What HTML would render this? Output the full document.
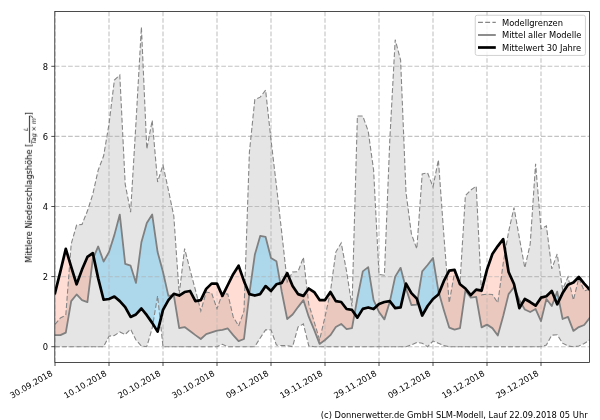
<!DOCTYPE html><html><head><meta charset="utf-8"><title>Niederschlag</title><style>html,body{margin:0;padding:0;background:#fff}svg{display:block}text{font-family:"DejaVu Sans","Liberation Sans",sans-serif;fill:#000}</style></head><body>
<svg width="600" height="420" viewBox="0 0 600 420">
<rect width="600" height="420" fill="#fff"/>
<defs><filter id="nf" x="-5%" y="-5%" width="110%" height="110%" color-interpolation-filters="sRGB"><feOffset dx="0" dy="0"/></filter><clipPath id="ax"><rect x="54.8" y="11.5" width="534.7" height="351"/></clipPath><clipPath id="band"><path d="M55.00,324.27 L60.40,317.96 L65.80,315.15 L71.20,244.00 L76.60,225.08 L82.00,224.38 L87.40,211.06 L92.80,194.23 L98.20,170.05 L103.60,156.03 L109.00,124.13 L114.40,79.97 L119.80,75.06 L125.20,184.07 L130.60,212.11 L136.00,122.38 L141.40,27.04 L146.80,149.02 L152.20,120.28 L157.60,181.97 L163.00,165.14 L168.40,190.03 L173.80,215.96 L179.20,294.12 L184.60,248.56 L190.00,269.59 L195.40,289.92 L200.80,310.95 L206.20,292.02 L211.60,293.07 L217.00,308.85 L222.40,293.42 L227.80,294.12 L233.20,316.91 L238.60,326.02 L244.00,310.95 L249.40,152.17 L254.80,99.60 L260.20,97.14 L265.60,90.13 L271.00,139.91 L276.40,185.47 L281.80,233.14 L287.20,281.86 L292.60,272.04 L298.00,271.69 L303.40,257.32 L308.80,304.29 L314.20,321.81 L319.60,340.04 L325.00,316.91 L330.40,292.02 L335.80,252.06 L341.20,242.95 L346.60,271.34 L352.00,306.39 L357.40,116.07 L362.80,116.07 L368.20,131.14 L373.60,170.05 L379.00,274.50 L384.40,275.20 L389.80,139.91 L395.20,39.66 L400.60,59.99 L406.00,192.48 L411.40,233.84 L416.80,248.91 L422.20,173.90 L427.60,172.85 L433.00,186.87 L438.40,159.88 L443.80,234.54 L449.20,302.89 L454.60,272.04 L460.00,282.56 L465.40,195.63 L470.80,190.03 L476.20,186.17 L481.60,294.83 L487.00,294.12 L492.40,294.48 L497.80,302.89 L503.20,263.28 L508.60,231.74 L514.00,207.55 L519.40,238.04 L524.80,267.84 L530.20,244.00 L535.60,163.74 L541.00,228.93 L546.40,225.78 L551.80,268.89 L557.20,253.99 L562.60,289.57 L568.00,276.95 L573.40,300.08 L578.80,278.00 L584.20,290.97 L589.60,289.22 L589.60,340.04 L584.20,343.55 L578.80,346.00 L573.40,346.70 L568.00,346.00 L562.60,343.19 L557.20,334.78 L551.80,335.13 L546.40,344.95 L541.00,346.70 L535.60,346.70 L530.20,346.70 L524.80,346.70 L519.40,346.70 L514.00,346.70 L508.60,346.70 L503.20,346.70 L497.80,346.70 L492.40,346.70 L487.00,346.70 L481.60,346.70 L476.20,346.70 L470.80,346.70 L465.40,346.70 L460.00,346.70 L454.60,346.70 L449.20,346.70 L443.80,345.65 L438.40,343.19 L433.00,341.09 L427.60,346.70 L422.20,343.19 L416.80,342.49 L411.40,344.95 L406.00,346.70 L400.60,346.70 L395.20,346.70 L389.80,346.70 L384.40,346.70 L379.00,346.70 L373.60,346.70 L368.20,346.70 L362.80,346.70 L357.40,346.70 L352.00,346.70 L346.60,346.70 L341.20,346.70 L335.80,346.70 L330.40,346.70 L325.00,346.70 L319.60,346.70 L314.20,346.70 L308.80,346.00 L303.40,323.92 L298.00,327.07 L292.60,346.70 L287.20,345.65 L281.80,345.65 L276.40,344.95 L271.00,329.88 L265.60,329.88 L260.20,337.94 L254.80,346.70 L249.40,346.70 L244.00,346.70 L238.60,346.70 L233.20,346.70 L227.80,346.70 L222.40,344.25 L217.00,346.70 L211.60,346.70 L206.20,346.70 L200.80,346.70 L195.40,346.70 L190.00,346.70 L184.60,346.70 L179.20,346.70 L173.80,346.70 L168.40,346.70 L163.00,346.70 L157.60,295.88 L152.20,328.12 L146.80,346.70 L141.40,346.00 L136.00,340.04 L130.60,329.18 L125.20,334.43 L119.80,331.98 L114.40,335.48 L109.00,336.19 L103.60,346.70 L98.20,346.70 L92.80,346.70 L87.40,346.70 L82.00,346.70 L76.60,346.70 L71.20,346.70 L65.80,346.70 L60.40,346.70 L55.00,346.70Z"/></clipPath></defs>
<g clip-path="url(#ax)">
<path d="M55.00,324.27 L60.40,317.96 L65.80,315.15 L71.20,244.00 L76.60,225.08 L82.00,224.38 L87.40,211.06 L92.80,194.23 L98.20,170.05 L103.60,156.03 L109.00,124.13 L114.40,79.97 L119.80,75.06 L125.20,184.07 L130.60,212.11 L136.00,122.38 L141.40,27.04 L146.80,149.02 L152.20,120.28 L157.60,181.97 L163.00,165.14 L168.40,190.03 L173.80,215.96 L179.20,294.12 L184.60,248.56 L190.00,269.59 L195.40,289.92 L200.80,310.95 L206.20,292.02 L211.60,293.07 L217.00,308.85 L222.40,293.42 L227.80,294.12 L233.20,316.91 L238.60,326.02 L244.00,310.95 L249.40,152.17 L254.80,99.60 L260.20,97.14 L265.60,90.13 L271.00,139.91 L276.40,185.47 L281.80,233.14 L287.20,281.86 L292.60,272.04 L298.00,271.69 L303.40,257.32 L308.80,304.29 L314.20,321.81 L319.60,340.04 L325.00,316.91 L330.40,292.02 L335.80,252.06 L341.20,242.95 L346.60,271.34 L352.00,306.39 L357.40,116.07 L362.80,116.07 L368.20,131.14 L373.60,170.05 L379.00,274.50 L384.40,275.20 L389.80,139.91 L395.20,39.66 L400.60,59.99 L406.00,192.48 L411.40,233.84 L416.80,248.91 L422.20,173.90 L427.60,172.85 L433.00,186.87 L438.40,159.88 L443.80,234.54 L449.20,302.89 L454.60,272.04 L460.00,282.56 L465.40,195.63 L470.80,190.03 L476.20,186.17 L481.60,294.83 L487.00,294.12 L492.40,294.48 L497.80,302.89 L503.20,263.28 L508.60,231.74 L514.00,207.55 L519.40,238.04 L524.80,267.84 L530.20,244.00 L535.60,163.74 L541.00,228.93 L546.40,225.78 L551.80,268.89 L557.20,253.99 L562.60,289.57 L568.00,276.95 L573.40,300.08 L578.80,278.00 L584.20,290.97 L589.60,289.22 L589.60,340.04 L584.20,343.55 L578.80,346.00 L573.40,346.70 L568.00,346.00 L562.60,343.19 L557.20,334.78 L551.80,335.13 L546.40,344.95 L541.00,346.70 L535.60,346.70 L530.20,346.70 L524.80,346.70 L519.40,346.70 L514.00,346.70 L508.60,346.70 L503.20,346.70 L497.80,346.70 L492.40,346.70 L487.00,346.70 L481.60,346.70 L476.20,346.70 L470.80,346.70 L465.40,346.70 L460.00,346.70 L454.60,346.70 L449.20,346.70 L443.80,345.65 L438.40,343.19 L433.00,341.09 L427.60,346.70 L422.20,343.19 L416.80,342.49 L411.40,344.95 L406.00,346.70 L400.60,346.70 L395.20,346.70 L389.80,346.70 L384.40,346.70 L379.00,346.70 L373.60,346.70 L368.20,346.70 L362.80,346.70 L357.40,346.70 L352.00,346.70 L346.60,346.70 L341.20,346.70 L335.80,346.70 L330.40,346.70 L325.00,346.70 L319.60,346.70 L314.20,346.70 L308.80,346.00 L303.40,323.92 L298.00,327.07 L292.60,346.70 L287.20,345.65 L281.80,345.65 L276.40,344.95 L271.00,329.88 L265.60,329.88 L260.20,337.94 L254.80,346.70 L249.40,346.70 L244.00,346.70 L238.60,346.70 L233.20,346.70 L227.80,346.70 L222.40,344.25 L217.00,346.70 L211.60,346.70 L206.20,346.70 L200.80,346.70 L195.40,346.70 L190.00,346.70 L184.60,346.70 L179.20,346.70 L173.80,346.70 L168.40,346.70 L163.00,346.70 L157.60,295.88 L152.20,328.12 L146.80,346.70 L141.40,346.00 L136.00,340.04 L130.60,329.18 L125.20,334.43 L119.80,331.98 L114.40,335.48 L109.00,336.19 L103.60,346.70 L98.20,346.70 L92.80,346.70 L87.40,346.70 L82.00,346.70 L76.60,346.70 L71.20,346.70 L65.80,346.70 L60.40,346.70 L55.00,346.70Z" fill="#e5e5e5"/>
<path d="M55.00,335.13 L60.40,335.13 L65.80,332.68 L71.20,301.13 L76.60,294.48 L82.00,300.08 L87.40,302.19 L92.80,259.07 L93.65,257.09 L93.65,257.09 L92.80,253.12 L87.40,256.97 L82.00,269.59 L76.60,284.31 L71.20,266.79 L65.80,248.91 L60.40,271.34 L55.00,293.07Z M172.45,295.35 L173.80,295.18 L179.20,328.12 L184.60,327.07 L190.00,330.93 L195.40,335.13 L200.80,338.99 L206.20,334.08 L211.60,332.33 L217.00,330.58 L222.40,329.88 L227.80,328.47 L233.20,335.13 L238.60,341.09 L244.00,338.99 L249.34,293.97 L249.34,293.97 L244.00,281.16 L238.60,265.73 L233.20,274.15 L227.80,285.01 L222.40,295.88 L217.00,283.61 L211.60,283.61 L206.20,288.87 L200.80,300.08 L195.40,301.13 L190.00,290.97 L184.60,292.02 L179.20,295.53 L173.80,293.77 L172.45,295.35Z M280.27,283.31 L281.80,292.02 L287.20,319.01 L292.60,314.45 L298.00,307.09 L303.40,300.08 L308.80,316.91 L314.20,329.88 L319.60,343.90 L325.00,340.04 L330.40,335.13 L335.80,327.07 L341.20,323.92 L346.60,329.18 L352.00,328.12 L354.60,313.61 L354.60,313.61 L352.00,309.90 L346.60,309.02 L341.20,302.01 L335.80,301.13 L330.40,292.02 L325.00,300.08 L319.60,300.08 L314.20,292.02 L308.80,288.52 L303.40,295.88 L298.00,294.12 L292.60,286.06 L287.20,273.09 L281.80,282.91 L280.27,283.31Z M376.44,306.35 L379.00,312.00 L384.40,319.36 L389.80,301.84 L389.92,301.29 L389.92,301.29 L389.80,301.13 L384.40,302.01 L379.00,303.94 L376.44,306.35Z M405.40,286.24 L406.00,288.52 L411.40,304.99 L416.80,304.64 L417.44,300.68 L417.44,300.68 L416.80,298.68 L411.40,293.07 L406.00,283.61 L405.40,286.24Z M438.99,293.03 L443.80,309.90 L449.20,327.60 L454.60,329.53 L460.00,328.12 L465.40,290.44 L470.80,297.63 L476.20,296.93 L481.60,327.42 L487.00,324.62 L492.40,328.12 L497.80,335.48 L503.20,316.03 L508.60,294.12 L514.00,287.12 L515.52,290.76 L515.52,290.76 L514.00,283.96 L508.60,272.04 L503.20,239.10 L497.80,246.11 L492.40,253.99 L487.00,269.59 L481.60,290.62 L476.20,289.57 L470.80,295.18 L465.40,288.52 L460.00,284.31 L454.60,269.94 L449.20,270.64 L443.80,281.16 L438.99,293.03Z M521.74,304.19 L524.80,309.55 L530.20,312.00 L535.60,309.02 L541.00,321.11 L546.40,299.03 L551.80,306.04 L554.74,298.22 L554.74,298.22 L551.80,290.97 L546.40,296.23 L541.00,297.63 L535.60,305.69 L530.20,302.01 L524.80,299.03 L521.74,304.19Z M558.97,300.62 L562.60,319.01 L568.00,316.91 L573.40,330.93 L578.80,327.07 L584.20,324.97 L589.60,317.96 L589.60,289.57 L584.20,283.61 L578.80,276.95 L573.40,282.56 L568.00,284.66 L562.60,293.07 L558.97,300.62Z" fill="#ffddd4"/>
<path d="M93.65,257.09 L98.20,246.46 L103.60,261.53 L109.00,252.06 L114.40,234.89 L119.80,214.56 L125.20,263.98 L130.60,265.73 L136.00,282.91 L141.40,242.25 L146.80,222.97 L152.20,214.56 L157.60,252.06 L163.00,272.04 L168.40,295.88 L172.45,295.35 L172.45,295.35 L168.40,300.08 L163.00,309.90 L157.60,331.63 L152.20,322.87 L146.80,315.15 L141.40,308.50 L136.00,314.45 L130.60,316.91 L125.20,307.09 L119.80,301.13 L114.40,296.58 L109.00,299.03 L103.60,299.73 L98.20,278.35 L93.65,257.09Z M249.34,293.97 L249.40,293.42 L254.80,254.87 L260.20,235.94 L265.60,236.99 L271.00,258.02 L276.40,261.18 L280.27,283.31 L280.27,283.31 L276.40,284.31 L271.00,290.97 L265.60,286.06 L260.20,294.12 L254.80,295.53 L249.40,294.12 L249.34,293.97Z M354.60,313.61 L357.40,297.98 L362.80,271.34 L368.20,267.14 L373.60,300.08 L376.44,306.35 L376.44,306.35 L373.60,309.02 L368.20,307.44 L362.80,308.85 L357.40,317.61 L354.60,313.61Z M389.92,301.29 L395.20,276.60 L400.60,267.84 L405.40,286.24 L405.40,286.24 L400.60,307.44 L395.20,308.14 L389.92,301.29Z M417.44,300.68 L422.20,271.34 L427.60,265.03 L433.00,258.02 L438.40,290.97 L438.99,293.03 L438.99,293.03 L438.40,294.48 L433.00,299.03 L427.60,306.04 L422.20,315.51 L417.44,300.68Z M515.52,290.76 L519.40,300.08 L521.74,304.19 L521.74,304.19 L519.40,308.14 L515.52,290.76Z M554.74,298.22 L557.20,291.67 L558.97,300.62 L558.97,300.62 L557.20,304.29 L554.74,298.22Z" fill="#bee8fc"/>
<g clip-path="url(#band)"><path d="M55.00,335.13 L60.40,335.13 L65.80,332.68 L71.20,301.13 L76.60,294.48 L82.00,300.08 L87.40,302.19 L92.80,259.07 L93.65,257.09 L93.65,257.09 L92.80,253.12 L87.40,256.97 L82.00,269.59 L76.60,284.31 L71.20,266.79 L65.80,248.91 L60.40,271.34 L55.00,293.07Z M172.45,295.35 L173.80,295.18 L179.20,328.12 L184.60,327.07 L190.00,330.93 L195.40,335.13 L200.80,338.99 L206.20,334.08 L211.60,332.33 L217.00,330.58 L222.40,329.88 L227.80,328.47 L233.20,335.13 L238.60,341.09 L244.00,338.99 L249.34,293.97 L249.34,293.97 L244.00,281.16 L238.60,265.73 L233.20,274.15 L227.80,285.01 L222.40,295.88 L217.00,283.61 L211.60,283.61 L206.20,288.87 L200.80,300.08 L195.40,301.13 L190.00,290.97 L184.60,292.02 L179.20,295.53 L173.80,293.77 L172.45,295.35Z M280.27,283.31 L281.80,292.02 L287.20,319.01 L292.60,314.45 L298.00,307.09 L303.40,300.08 L308.80,316.91 L314.20,329.88 L319.60,343.90 L325.00,340.04 L330.40,335.13 L335.80,327.07 L341.20,323.92 L346.60,329.18 L352.00,328.12 L354.60,313.61 L354.60,313.61 L352.00,309.90 L346.60,309.02 L341.20,302.01 L335.80,301.13 L330.40,292.02 L325.00,300.08 L319.60,300.08 L314.20,292.02 L308.80,288.52 L303.40,295.88 L298.00,294.12 L292.60,286.06 L287.20,273.09 L281.80,282.91 L280.27,283.31Z M376.44,306.35 L379.00,312.00 L384.40,319.36 L389.80,301.84 L389.92,301.29 L389.92,301.29 L389.80,301.13 L384.40,302.01 L379.00,303.94 L376.44,306.35Z M405.40,286.24 L406.00,288.52 L411.40,304.99 L416.80,304.64 L417.44,300.68 L417.44,300.68 L416.80,298.68 L411.40,293.07 L406.00,283.61 L405.40,286.24Z M438.99,293.03 L443.80,309.90 L449.20,327.60 L454.60,329.53 L460.00,328.12 L465.40,290.44 L470.80,297.63 L476.20,296.93 L481.60,327.42 L487.00,324.62 L492.40,328.12 L497.80,335.48 L503.20,316.03 L508.60,294.12 L514.00,287.12 L515.52,290.76 L515.52,290.76 L514.00,283.96 L508.60,272.04 L503.20,239.10 L497.80,246.11 L492.40,253.99 L487.00,269.59 L481.60,290.62 L476.20,289.57 L470.80,295.18 L465.40,288.52 L460.00,284.31 L454.60,269.94 L449.20,270.64 L443.80,281.16 L438.99,293.03Z M521.74,304.19 L524.80,309.55 L530.20,312.00 L535.60,309.02 L541.00,321.11 L546.40,299.03 L551.80,306.04 L554.74,298.22 L554.74,298.22 L551.80,290.97 L546.40,296.23 L541.00,297.63 L535.60,305.69 L530.20,302.01 L524.80,299.03 L521.74,304.19Z M558.97,300.62 L562.60,319.01 L568.00,316.91 L573.40,330.93 L578.80,327.07 L584.20,324.97 L589.60,317.96 L589.60,289.57 L584.20,283.61 L578.80,276.95 L573.40,282.56 L568.00,284.66 L562.60,293.07 L558.97,300.62Z" fill="#eac8be"/><path d="M93.65,257.09 L98.20,246.46 L103.60,261.53 L109.00,252.06 L114.40,234.89 L119.80,214.56 L125.20,263.98 L130.60,265.73 L136.00,282.91 L141.40,242.25 L146.80,222.97 L152.20,214.56 L157.60,252.06 L163.00,272.04 L168.40,295.88 L172.45,295.35 L172.45,295.35 L168.40,300.08 L163.00,309.90 L157.60,331.63 L152.20,322.87 L146.80,315.15 L141.40,308.50 L136.00,314.45 L130.60,316.91 L125.20,307.09 L119.80,301.13 L114.40,296.58 L109.00,299.03 L103.60,299.73 L98.20,278.35 L93.65,257.09Z M249.34,293.97 L249.40,293.42 L254.80,254.87 L260.20,235.94 L265.60,236.99 L271.00,258.02 L276.40,261.18 L280.27,283.31 L280.27,283.31 L276.40,284.31 L271.00,290.97 L265.60,286.06 L260.20,294.12 L254.80,295.53 L249.40,294.12 L249.34,293.97Z M354.60,313.61 L357.40,297.98 L362.80,271.34 L368.20,267.14 L373.60,300.08 L376.44,306.35 L376.44,306.35 L373.60,309.02 L368.20,307.44 L362.80,308.85 L357.40,317.61 L354.60,313.61Z M389.92,301.29 L395.20,276.60 L400.60,267.84 L405.40,286.24 L405.40,286.24 L400.60,307.44 L395.20,308.14 L389.92,301.29Z M417.44,300.68 L422.20,271.34 L427.60,265.03 L433.00,258.02 L438.40,290.97 L438.99,293.03 L438.99,293.03 L438.40,294.48 L433.00,299.03 L427.60,306.04 L422.20,315.51 L417.44,300.68Z M515.52,290.76 L519.40,300.08 L521.74,304.19 L521.74,304.19 L519.40,308.14 L515.52,290.76Z M554.74,298.22 L557.20,291.67 L558.97,300.62 L558.97,300.62 L557.20,304.29 L554.74,298.22Z" fill="#add7eb"/></g>
<path d="M55.00,362.50 V11.50 M109.00,362.50 V11.50 M163.00,362.50 V11.50 M217.00,362.50 V11.50 M271.00,362.50 V11.50 M325.00,362.50 V11.50 M379.00,362.50 V11.50 M433.00,362.50 V11.50 M487.00,362.50 V11.50 M541.00,362.50 V11.50 M54.80,346.70 H589.50 M54.80,276.60 H589.50 M54.80,206.50 H589.50 M54.80,136.40 H589.50 M54.80,66.30 H589.50" fill="none" stroke="#b0b0b0" stroke-opacity="0.76" stroke-width="1.1" stroke-dasharray="4.65 2.01"/>
<g opacity="0.35"><path d="M55.00,335.13 L60.40,335.13 L65.80,332.68 L71.20,301.13 L76.60,294.48 L82.00,300.08 L87.40,302.19 L92.80,259.07 L93.65,257.09 L93.65,257.09 L92.80,253.12 L87.40,256.97 L82.00,269.59 L76.60,284.31 L71.20,266.79 L65.80,248.91 L60.40,271.34 L55.00,293.07Z M172.45,295.35 L173.80,295.18 L179.20,328.12 L184.60,327.07 L190.00,330.93 L195.40,335.13 L200.80,338.99 L206.20,334.08 L211.60,332.33 L217.00,330.58 L222.40,329.88 L227.80,328.47 L233.20,335.13 L238.60,341.09 L244.00,338.99 L249.34,293.97 L249.34,293.97 L244.00,281.16 L238.60,265.73 L233.20,274.15 L227.80,285.01 L222.40,295.88 L217.00,283.61 L211.60,283.61 L206.20,288.87 L200.80,300.08 L195.40,301.13 L190.00,290.97 L184.60,292.02 L179.20,295.53 L173.80,293.77 L172.45,295.35Z M280.27,283.31 L281.80,292.02 L287.20,319.01 L292.60,314.45 L298.00,307.09 L303.40,300.08 L308.80,316.91 L314.20,329.88 L319.60,343.90 L325.00,340.04 L330.40,335.13 L335.80,327.07 L341.20,323.92 L346.60,329.18 L352.00,328.12 L354.60,313.61 L354.60,313.61 L352.00,309.90 L346.60,309.02 L341.20,302.01 L335.80,301.13 L330.40,292.02 L325.00,300.08 L319.60,300.08 L314.20,292.02 L308.80,288.52 L303.40,295.88 L298.00,294.12 L292.60,286.06 L287.20,273.09 L281.80,282.91 L280.27,283.31Z M376.44,306.35 L379.00,312.00 L384.40,319.36 L389.80,301.84 L389.92,301.29 L389.92,301.29 L389.80,301.13 L384.40,302.01 L379.00,303.94 L376.44,306.35Z M405.40,286.24 L406.00,288.52 L411.40,304.99 L416.80,304.64 L417.44,300.68 L417.44,300.68 L416.80,298.68 L411.40,293.07 L406.00,283.61 L405.40,286.24Z M438.99,293.03 L443.80,309.90 L449.20,327.60 L454.60,329.53 L460.00,328.12 L465.40,290.44 L470.80,297.63 L476.20,296.93 L481.60,327.42 L487.00,324.62 L492.40,328.12 L497.80,335.48 L503.20,316.03 L508.60,294.12 L514.00,287.12 L515.52,290.76 L515.52,290.76 L514.00,283.96 L508.60,272.04 L503.20,239.10 L497.80,246.11 L492.40,253.99 L487.00,269.59 L481.60,290.62 L476.20,289.57 L470.80,295.18 L465.40,288.52 L460.00,284.31 L454.60,269.94 L449.20,270.64 L443.80,281.16 L438.99,293.03Z M521.74,304.19 L524.80,309.55 L530.20,312.00 L535.60,309.02 L541.00,321.11 L546.40,299.03 L551.80,306.04 L554.74,298.22 L554.74,298.22 L551.80,290.97 L546.40,296.23 L541.00,297.63 L535.60,305.69 L530.20,302.01 L524.80,299.03 L521.74,304.19Z M558.97,300.62 L562.60,319.01 L568.00,316.91 L573.40,330.93 L578.80,327.07 L584.20,324.97 L589.60,317.96 L589.60,289.57 L584.20,283.61 L578.80,276.95 L573.40,282.56 L568.00,284.66 L562.60,293.07 L558.97,300.62Z" fill="#ffddd4"/><path d="M93.65,257.09 L98.20,246.46 L103.60,261.53 L109.00,252.06 L114.40,234.89 L119.80,214.56 L125.20,263.98 L130.60,265.73 L136.00,282.91 L141.40,242.25 L146.80,222.97 L152.20,214.56 L157.60,252.06 L163.00,272.04 L168.40,295.88 L172.45,295.35 L172.45,295.35 L168.40,300.08 L163.00,309.90 L157.60,331.63 L152.20,322.87 L146.80,315.15 L141.40,308.50 L136.00,314.45 L130.60,316.91 L125.20,307.09 L119.80,301.13 L114.40,296.58 L109.00,299.03 L103.60,299.73 L98.20,278.35 L93.65,257.09Z M249.34,293.97 L249.40,293.42 L254.80,254.87 L260.20,235.94 L265.60,236.99 L271.00,258.02 L276.40,261.18 L280.27,283.31 L280.27,283.31 L276.40,284.31 L271.00,290.97 L265.60,286.06 L260.20,294.12 L254.80,295.53 L249.40,294.12 L249.34,293.97Z M354.60,313.61 L357.40,297.98 L362.80,271.34 L368.20,267.14 L373.60,300.08 L376.44,306.35 L376.44,306.35 L373.60,309.02 L368.20,307.44 L362.80,308.85 L357.40,317.61 L354.60,313.61Z M389.92,301.29 L395.20,276.60 L400.60,267.84 L405.40,286.24 L405.40,286.24 L400.60,307.44 L395.20,308.14 L389.92,301.29Z M417.44,300.68 L422.20,271.34 L427.60,265.03 L433.00,258.02 L438.40,290.97 L438.99,293.03 L438.99,293.03 L438.40,294.48 L433.00,299.03 L427.60,306.04 L422.20,315.51 L417.44,300.68Z M515.52,290.76 L519.40,300.08 L521.74,304.19 L521.74,304.19 L519.40,308.14 L515.52,290.76Z M554.74,298.22 L557.20,291.67 L558.97,300.62 L558.97,300.62 L557.20,304.29 L554.74,298.22Z" fill="#bee8fc"/><g clip-path="url(#band)"><path d="M55.00,335.13 L60.40,335.13 L65.80,332.68 L71.20,301.13 L76.60,294.48 L82.00,300.08 L87.40,302.19 L92.80,259.07 L93.65,257.09 L93.65,257.09 L92.80,253.12 L87.40,256.97 L82.00,269.59 L76.60,284.31 L71.20,266.79 L65.80,248.91 L60.40,271.34 L55.00,293.07Z M172.45,295.35 L173.80,295.18 L179.20,328.12 L184.60,327.07 L190.00,330.93 L195.40,335.13 L200.80,338.99 L206.20,334.08 L211.60,332.33 L217.00,330.58 L222.40,329.88 L227.80,328.47 L233.20,335.13 L238.60,341.09 L244.00,338.99 L249.34,293.97 L249.34,293.97 L244.00,281.16 L238.60,265.73 L233.20,274.15 L227.80,285.01 L222.40,295.88 L217.00,283.61 L211.60,283.61 L206.20,288.87 L200.80,300.08 L195.40,301.13 L190.00,290.97 L184.60,292.02 L179.20,295.53 L173.80,293.77 L172.45,295.35Z M280.27,283.31 L281.80,292.02 L287.20,319.01 L292.60,314.45 L298.00,307.09 L303.40,300.08 L308.80,316.91 L314.20,329.88 L319.60,343.90 L325.00,340.04 L330.40,335.13 L335.80,327.07 L341.20,323.92 L346.60,329.18 L352.00,328.12 L354.60,313.61 L354.60,313.61 L352.00,309.90 L346.60,309.02 L341.20,302.01 L335.80,301.13 L330.40,292.02 L325.00,300.08 L319.60,300.08 L314.20,292.02 L308.80,288.52 L303.40,295.88 L298.00,294.12 L292.60,286.06 L287.20,273.09 L281.80,282.91 L280.27,283.31Z M376.44,306.35 L379.00,312.00 L384.40,319.36 L389.80,301.84 L389.92,301.29 L389.92,301.29 L389.80,301.13 L384.40,302.01 L379.00,303.94 L376.44,306.35Z M405.40,286.24 L406.00,288.52 L411.40,304.99 L416.80,304.64 L417.44,300.68 L417.44,300.68 L416.80,298.68 L411.40,293.07 L406.00,283.61 L405.40,286.24Z M438.99,293.03 L443.80,309.90 L449.20,327.60 L454.60,329.53 L460.00,328.12 L465.40,290.44 L470.80,297.63 L476.20,296.93 L481.60,327.42 L487.00,324.62 L492.40,328.12 L497.80,335.48 L503.20,316.03 L508.60,294.12 L514.00,287.12 L515.52,290.76 L515.52,290.76 L514.00,283.96 L508.60,272.04 L503.20,239.10 L497.80,246.11 L492.40,253.99 L487.00,269.59 L481.60,290.62 L476.20,289.57 L470.80,295.18 L465.40,288.52 L460.00,284.31 L454.60,269.94 L449.20,270.64 L443.80,281.16 L438.99,293.03Z M521.74,304.19 L524.80,309.55 L530.20,312.00 L535.60,309.02 L541.00,321.11 L546.40,299.03 L551.80,306.04 L554.74,298.22 L554.74,298.22 L551.80,290.97 L546.40,296.23 L541.00,297.63 L535.60,305.69 L530.20,302.01 L524.80,299.03 L521.74,304.19Z M558.97,300.62 L562.60,319.01 L568.00,316.91 L573.40,330.93 L578.80,327.07 L584.20,324.97 L589.60,317.96 L589.60,289.57 L584.20,283.61 L578.80,276.95 L573.40,282.56 L568.00,284.66 L562.60,293.07 L558.97,300.62Z" fill="#eac8be"/><path d="M93.65,257.09 L98.20,246.46 L103.60,261.53 L109.00,252.06 L114.40,234.89 L119.80,214.56 L125.20,263.98 L130.60,265.73 L136.00,282.91 L141.40,242.25 L146.80,222.97 L152.20,214.56 L157.60,252.06 L163.00,272.04 L168.40,295.88 L172.45,295.35 L172.45,295.35 L168.40,300.08 L163.00,309.90 L157.60,331.63 L152.20,322.87 L146.80,315.15 L141.40,308.50 L136.00,314.45 L130.60,316.91 L125.20,307.09 L119.80,301.13 L114.40,296.58 L109.00,299.03 L103.60,299.73 L98.20,278.35 L93.65,257.09Z M249.34,293.97 L249.40,293.42 L254.80,254.87 L260.20,235.94 L265.60,236.99 L271.00,258.02 L276.40,261.18 L280.27,283.31 L280.27,283.31 L276.40,284.31 L271.00,290.97 L265.60,286.06 L260.20,294.12 L254.80,295.53 L249.40,294.12 L249.34,293.97Z M354.60,313.61 L357.40,297.98 L362.80,271.34 L368.20,267.14 L373.60,300.08 L376.44,306.35 L376.44,306.35 L373.60,309.02 L368.20,307.44 L362.80,308.85 L357.40,317.61 L354.60,313.61Z M389.92,301.29 L395.20,276.60 L400.60,267.84 L405.40,286.24 L405.40,286.24 L400.60,307.44 L395.20,308.14 L389.92,301.29Z M417.44,300.68 L422.20,271.34 L427.60,265.03 L433.00,258.02 L438.40,290.97 L438.99,293.03 L438.99,293.03 L438.40,294.48 L433.00,299.03 L427.60,306.04 L422.20,315.51 L417.44,300.68Z M515.52,290.76 L519.40,300.08 L521.74,304.19 L521.74,304.19 L519.40,308.14 L515.52,290.76Z M554.74,298.22 L557.20,291.67 L558.97,300.62 L558.97,300.62 L557.20,304.29 L554.74,298.22Z" fill="#add7eb"/></g></g>
<path d="M55.00,346.70 L60.40,346.70 L65.80,346.70 L71.20,346.70 L76.60,346.70 L82.00,346.70 L87.40,346.70 L92.80,346.70 L98.20,346.70 L103.60,346.70 L109.00,336.19 L114.40,335.48 L119.80,331.98 L125.20,334.43 L130.60,329.18 L136.00,340.04 L141.40,346.00 L146.80,346.70 L152.20,328.12 L157.60,295.88 L163.00,346.70 L168.40,346.70 L173.80,346.70 L179.20,346.70 L184.60,346.70 L190.00,346.70 L195.40,346.70 L200.80,346.70 L206.20,346.70 L211.60,346.70 L217.00,346.70 L222.40,344.25 L227.80,346.70 L233.20,346.70 L238.60,346.70 L244.00,346.70 L249.40,346.70 L254.80,346.70 L260.20,337.94 L265.60,329.88 L271.00,329.88 L276.40,344.95 L281.80,345.65 L287.20,345.65 L292.60,346.70 L298.00,327.07 L303.40,323.92 L308.80,346.00 L314.20,346.70 L319.60,346.70 L325.00,346.70 L330.40,346.70 L335.80,346.70 L341.20,346.70 L346.60,346.70 L352.00,346.70 L357.40,346.70 L362.80,346.70 L368.20,346.70 L373.60,346.70 L379.00,346.70 L384.40,346.70 L389.80,346.70 L395.20,346.70 L400.60,346.70 L406.00,346.70 L411.40,344.95 L416.80,342.49 L422.20,343.19 L427.60,346.70 L433.00,341.09 L438.40,343.19 L443.80,345.65 L449.20,346.70 L454.60,346.70 L460.00,346.70 L465.40,346.70 L470.80,346.70 L476.20,346.70 L481.60,346.70 L487.00,346.70 L492.40,346.70 L497.80,346.70 L503.20,346.70 L508.60,346.70 L514.00,346.70 L519.40,346.70 L524.80,346.70 L530.20,346.70 L535.60,346.70 L541.00,346.70 L546.40,344.95 L551.80,335.13 L557.20,334.78 L562.60,343.19 L568.00,346.00 L573.40,346.70 L578.80,346.00 L584.20,343.55 L589.60,340.04" fill="none" stroke="#868686" stroke-width="1.1" stroke-dasharray="4.9 2.3" stroke-linejoin="miter"/>
<path d="M55.00,324.27 L60.40,317.96 L65.80,315.15 L71.20,244.00 L76.60,225.08 L82.00,224.38 L87.40,211.06 L92.80,194.23 L98.20,170.05 L103.60,156.03 L109.00,124.13 L114.40,79.97 L119.80,75.06 L125.20,184.07 L130.60,212.11 L136.00,122.38 L141.40,27.04 L146.80,149.02 L152.20,120.28 L157.60,181.97 L163.00,165.14 L168.40,190.03 L173.80,215.96 L179.20,294.12 L184.60,248.56 L190.00,269.59 L195.40,289.92 L200.80,310.95 L206.20,292.02 L211.60,293.07 L217.00,308.85 L222.40,293.42 L227.80,294.12 L233.20,316.91 L238.60,326.02 L244.00,310.95 L249.40,152.17 L254.80,99.60 L260.20,97.14 L265.60,90.13 L271.00,139.91 L276.40,185.47 L281.80,233.14 L287.20,281.86 L292.60,272.04 L298.00,271.69 L303.40,257.32 L308.80,304.29 L314.20,321.81 L319.60,340.04 L325.00,316.91 L330.40,292.02 L335.80,252.06 L341.20,242.95 L346.60,271.34 L352.00,306.39 L357.40,116.07 L362.80,116.07 L368.20,131.14 L373.60,170.05 L379.00,274.50 L384.40,275.20 L389.80,139.91 L395.20,39.66 L400.60,59.99 L406.00,192.48 L411.40,233.84 L416.80,248.91 L422.20,173.90 L427.60,172.85 L433.00,186.87 L438.40,159.88 L443.80,234.54 L449.20,302.89 L454.60,272.04 L460.00,282.56 L465.40,195.63 L470.80,190.03 L476.20,186.17 L481.60,294.83 L487.00,294.12 L492.40,294.48 L497.80,302.89 L503.20,263.28 L508.60,231.74 L514.00,207.55 L519.40,238.04 L524.80,267.84 L530.20,244.00 L535.60,163.74 L541.00,228.93 L546.40,225.78 L551.80,268.89 L557.20,253.99 L562.60,289.57 L568.00,276.95 L573.40,300.08 L578.80,278.00 L584.20,290.97 L589.60,289.22" fill="none" stroke="#868686" stroke-width="1.1" stroke-dasharray="4.9 2.3" stroke-linejoin="miter"/>
<path d="M55.00,335.13 L60.40,335.13 L65.80,332.68 L71.20,301.13 L76.60,294.48 L82.00,300.08 L87.40,302.19 L92.80,259.07 L98.20,246.46 L103.60,261.53 L109.00,252.06 L114.40,234.89 L119.80,214.56 L125.20,263.98 L130.60,265.73 L136.00,282.91 L141.40,242.25 L146.80,222.97 L152.20,214.56 L157.60,252.06 L163.00,272.04 L168.40,295.88 L173.80,295.18 L179.20,328.12 L184.60,327.07 L190.00,330.93 L195.40,335.13 L200.80,338.99 L206.20,334.08 L211.60,332.33 L217.00,330.58 L222.40,329.88 L227.80,328.47 L233.20,335.13 L238.60,341.09 L244.00,338.99 L249.40,293.42 L254.80,254.87 L260.20,235.94 L265.60,236.99 L271.00,258.02 L276.40,261.18 L281.80,292.02 L287.20,319.01 L292.60,314.45 L298.00,307.09 L303.40,300.08 L308.80,316.91 L314.20,329.88 L319.60,343.90 L325.00,340.04 L330.40,335.13 L335.80,327.07 L341.20,323.92 L346.60,329.18 L352.00,328.12 L357.40,297.98 L362.80,271.34 L368.20,267.14 L373.60,300.08 L379.00,312.00 L384.40,319.36 L389.80,301.84 L395.20,276.60 L400.60,267.84 L406.00,288.52 L411.40,304.99 L416.80,304.64 L422.20,271.34 L427.60,265.03 L433.00,258.02 L438.40,290.97 L443.80,309.90 L449.20,327.60 L454.60,329.53 L460.00,328.12 L465.40,290.44 L470.80,297.63 L476.20,296.93 L481.60,327.42 L487.00,324.62 L492.40,328.12 L497.80,335.48 L503.20,316.03 L508.60,294.12 L514.00,287.12 L519.40,300.08 L524.80,309.55 L530.20,312.00 L535.60,309.02 L541.00,321.11 L546.40,299.03 L551.80,306.04 L557.20,291.67 L562.60,319.01 L568.00,316.91 L573.40,330.93 L578.80,327.07 L584.20,324.97 L589.60,317.96" fill="none" stroke="#808080" stroke-width="1.8" stroke-linejoin="round" stroke-linecap="square"/>
<path d="M55.00,293.07 L60.40,271.34 L65.80,248.91 L71.20,266.79 L76.60,284.31 L82.00,269.59 L87.40,256.97 L92.80,253.12 L98.20,278.35 L103.60,299.73 L109.00,299.03 L114.40,296.58 L119.80,301.13 L125.20,307.09 L130.60,316.91 L136.00,314.45 L141.40,308.50 L146.80,315.15 L152.20,322.87 L157.60,331.63 L163.00,309.90 L168.40,300.08 L173.80,293.77 L179.20,295.53 L184.60,292.02 L190.00,290.97 L195.40,301.13 L200.80,300.08 L206.20,288.87 L211.60,283.61 L217.00,283.61 L222.40,295.88 L227.80,285.01 L233.20,274.15 L238.60,265.73 L244.00,281.16 L249.40,294.12 L254.80,295.53 L260.20,294.12 L265.60,286.06 L271.00,290.97 L276.40,284.31 L281.80,282.91 L287.20,273.09 L292.60,286.06 L298.00,294.12 L303.40,295.88 L308.80,288.52 L314.20,292.02 L319.60,300.08 L325.00,300.08 L330.40,292.02 L335.80,301.13 L341.20,302.01 L346.60,309.02 L352.00,309.90 L357.40,317.61 L362.80,308.85 L368.20,307.44 L373.60,309.02 L379.00,303.94 L384.40,302.01 L389.80,301.13 L395.20,308.14 L400.60,307.44 L406.00,283.61 L411.40,293.07 L416.80,298.68 L422.20,315.51 L427.60,306.04 L433.00,299.03 L438.40,294.48 L443.80,281.16 L449.20,270.64 L454.60,269.94 L460.00,284.31 L465.40,288.52 L470.80,295.18 L476.20,289.57 L481.60,290.62 L487.00,269.59 L492.40,253.99 L497.80,246.11 L503.20,239.10 L508.60,272.04 L514.00,283.96 L519.40,308.14 L524.80,299.03 L530.20,302.01 L535.60,305.69 L541.00,297.63 L546.40,296.23 L551.80,290.97 L557.20,304.29 L562.60,293.07 L568.00,284.66 L573.40,282.56 L578.80,276.95 L584.20,283.61 L589.60,289.57" fill="none" stroke="#000" stroke-width="2.7" stroke-linejoin="round" stroke-linecap="square"/>
</g>
<rect x="54.8" y="11.5" width="534.7" height="351" fill="none" stroke="#111" stroke-width="0.75"/>
<path d="M55.00,362.50 v3.5 M109.00,362.50 v3.5 M163.00,362.50 v3.5 M217.00,362.50 v3.5 M271.00,362.50 v3.5 M325.00,362.50 v3.5 M379.00,362.50 v3.5 M433.00,362.50 v3.5 M487.00,362.50 v3.5 M541.00,362.50 v3.5 M54.80,346.70 h-3.5 M54.80,276.60 h-3.5 M54.80,206.50 h-3.5 M54.80,136.40 h-3.5 M54.80,66.30 h-3.5" fill="none" stroke="#111" stroke-width="0.75"/>
<g filter="url(#nf)"><text x="48" y="350.05" font-size="8.33" text-anchor="end">0</text></g>
<g filter="url(#nf)"><text x="48" y="279.95" font-size="8.33" text-anchor="end">2</text></g>
<g filter="url(#nf)"><text x="48" y="209.85" font-size="8.33" text-anchor="end">4</text></g>
<g filter="url(#nf)"><text x="48" y="139.75" font-size="8.33" text-anchor="end">6</text></g>
<g filter="url(#nf)"><text x="48" y="69.65" font-size="8.33" text-anchor="end">8</text></g>
<g filter="url(#nf)"><text font-size="8.33" text-anchor="end" transform="translate(53.30,375.00) rotate(-30)">30.09.2018</text></g>
<g filter="url(#nf)"><text font-size="8.33" text-anchor="end" transform="translate(107.30,375.00) rotate(-30)">10.10.2018</text></g>
<g filter="url(#nf)"><text font-size="8.33" text-anchor="end" transform="translate(161.30,375.00) rotate(-30)">20.10.2018</text></g>
<g filter="url(#nf)"><text font-size="8.33" text-anchor="end" transform="translate(215.30,375.00) rotate(-30)">30.10.2018</text></g>
<g filter="url(#nf)"><text font-size="8.33" text-anchor="end" transform="translate(269.30,375.00) rotate(-30)">09.11.2018</text></g>
<g filter="url(#nf)"><text font-size="8.33" text-anchor="end" transform="translate(323.30,375.00) rotate(-30)">19.11.2018</text></g>
<g filter="url(#nf)"><text font-size="8.33" text-anchor="end" transform="translate(377.30,375.00) rotate(-30)">29.11.2018</text></g>
<g filter="url(#nf)"><text font-size="8.33" text-anchor="end" transform="translate(431.30,375.00) rotate(-30)">09.12.2018</text></g>
<g filter="url(#nf)"><text font-size="8.33" text-anchor="end" transform="translate(485.30,375.00) rotate(-30)">19.12.2018</text></g>
<g filter="url(#nf)"><text font-size="8.33" text-anchor="end" transform="translate(539.30,375.00) rotate(-30)">29.12.2018</text></g>
<g filter="url(#nf)" transform="translate(31.9,262.8) rotate(-90)"><text x="0" y="0" font-size="8.33" textLength="119.3" lengthAdjust="spacing">Mittlere Niederschlagshöhe [</text><path d="M120.2,-2.4 H147" stroke="#000" stroke-width="0.85" fill="none"/><text x="133.7" y="-4.3" font-size="5.83" font-style="italic" text-anchor="middle">L</text><text x="133.2" y="3.6" font-size="6.2" font-style="italic" text-anchor="middle">Tag × m<tspan font-size="4.6" dy="-2.3">2</tspan></text><text x="147.5" y="0" font-size="8.33">]</text></g>
<rect x="475.25" y="15.25" width="110.2" height="40.2" rx="2" ry="2" fill="#fff" fill-opacity="0.8" stroke="#ccc" stroke-width="0.9"/>
<path d="M478,22.4 H495.8" stroke="#868686" stroke-width="1.1" stroke-dasharray="4.9 2.3" fill="none"/>
<path d="M478,35 H495.8" stroke="#808080" stroke-width="1.8" fill="none"/>
<path d="M478,47.5 H495.8" stroke="#000" stroke-width="2.7" fill="none"/>
<g filter="url(#nf)"><text x="502" y="25.8" font-size="8.33">Modellgrenzen</text></g>
<g filter="url(#nf)"><text x="502" y="38.3" font-size="8.33">Mittel aller Modelle</text></g>
<g filter="url(#nf)"><text x="502" y="50.8" font-size="8.33">Mittelwert 30 Jahre</text></g>
<g filter="url(#nf)"><text x="587.6" y="417.6" font-size="8.33" text-anchor="end">(c) Donnerwetter.de GmbH SLM-Modell, Lauf 22.09.2018 05 Uhr</text></g>
</svg></body></html>
